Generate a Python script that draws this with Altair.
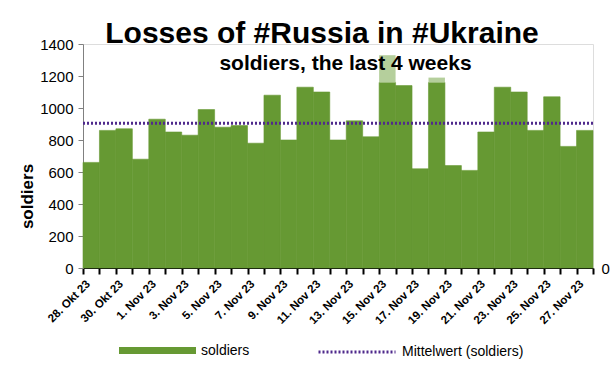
import json
import altair as alt
import pandas as pd

# ---- data ----
dates = [
    "28. Okt 23", "29. Okt 23", "30. Okt 23", "31. Okt 23",
    "1. Nov 23", "2. Nov 23", "3. Nov 23", "4. Nov 23", "5. Nov 23",
    "6. Nov 23", "7. Nov 23", "8. Nov 23", "9. Nov 23", "10. Nov 23",
    "11. Nov 23", "12. Nov 23", "13. Nov 23", "14. Nov 23", "15. Nov 23",
    "16. Nov 23", "17. Nov 23", "18. Nov 23", "19. Nov 23", "20. Nov 23",
    "21. Nov 23", "22. Nov 23", "23. Nov 23", "24. Nov 23", "25. Nov 23",
    "26. Nov 23", "27. Nov 23",
]
soldiers = [660, 860, 870, 680, 930, 850, 830, 990, 880, 890,
            780, 1080, 800, 1130, 1100, 800, 920, 820, 1160, 1140,
            620, 1160, 640, 610, 850, 1130, 1100, 860, 1070, 760, 860]
extra = [0, 0, 0, 0, 0, 0, 0, 0, 0, 0,
         0, 0, 0, 0, 0, 0, 0, 0, 170, 0,
         0, 30, 0, 0, 0, 0, 0, 0, 0, 0, 0]

title_text = "Losses of #Russia in #Ukraine"
subtitle_text = "soldiers, the last 4 weeks"
bar_series = "soldiers"
mean_series = "Mittelwert (soldiers)"

df = pd.DataFrame({
    "idx": list(range(len(dates))),
    "date": dates,
    "soldiers": soldiers,
    "extra": extra,
})
df["total"] = df["soldiers"] + df["extra"]

GREEN = "#669933"
LIGHT = "#b5cf9c"
PURPLE = "#4f2a8c"
FONT = "Liberation Sans"
N = len(dates)
W, H = 510, 224

label_expr = (
    f"datum.value % 2 == 0 && datum.value < {N} ? "
    f"{json.dumps(dates)}[datum.value] : ''"
)

x_scale = alt.Scale(domain=[0, N], nice=False, zero=False)
y_scale = alt.Scale(domain=[0, 1400], nice=False)

x_axis = alt.Axis(
    orient="bottom", values=list(range(N + 1)), labelExpr=label_expr,
    labelAngle=-45, labelAlign="right", labelBaseline="middle",
    labelOffset=W / N / 2 - 3, labelPadding=8, labelOverlap=False,
    labelFlush=False, labelBound=False, labelFontSize=11.5,
    labelFontWeight="bold", labelColor="black", labelFont=FONT,
    tickSize=6, tickColor="black", tickWidth=2, domainColor="black",
    grid=False, title=None,
)

# top axis carrying only the subtitle text
x_axis_top = alt.Axis(
    orient="top", labels=False, ticks=False, domain=False, grid=False,
    title=subtitle_text, titleFont=FONT, titleFontSize=21,
    titleFontWeight="bold", titleColor="black", titleX=262, titleY=19,
    titleAlign="center", titleBaseline="middle", titleAngle=0, zindex=2,
)

y_axis_left = alt.Axis(
    orient="left", values=list(range(0, 1401, 200)), format="d",
    title="soldiers", titleFontSize=17, titleFont=FONT,
    titleFontWeight="bold", titleColor="black", titleX=-56, titleY=152,
    titleAlign="center", titleBaseline="middle", titleAngle=270,
    labelFontSize=15, labelColor="black", labelFont=FONT, labelPadding=5,
    tickSize=5, tickColor="#808080", domainColor="#808080", grid=False,
)

y_axis_right = alt.Axis(
    orient="right", values=[0], format="d", title=None, domain=False,
    ticks=False, labelFontSize=15, labelFont=FONT, labelColor="black",
    labelPadding=8, grid=False,
)

legend_common = dict(
    orient="none", direction="horizontal", title=None, symbolSize=5929,
    labelFontSize=14, labelFont=FONT, labelColor="black", labelOffset=5,
    padding=0,
)

bar_legend = alt.Legend(
    legendX=36, legendY=268, symbolType="M-1,-0.09H1V0.09H-1Z",
    symbolStrokeWidth=0, symbolOpacity=1, **legend_common,
)
mean_legend = alt.Legend(
    legendX=234, legendY=268, symbolType="stroke",
    symbolStrokeColor=PURPLE, symbolStrokeWidth=3, symbolDash=[2, 2],
    **legend_common,
)

base = alt.Chart(df).transform_calculate(
    idx2="datum.idx + 1", series=f"'{bar_series}'"
)

bars = base.mark_bar(stroke=GREEN, strokeWidth=0.6).encode(
    x=alt.X("idx:Q", scale=x_scale, axis=x_axis),
    x2="idx2:Q",
    y=alt.Y("soldiers:Q", scale=y_scale, axis=y_axis_left),
    y2=alt.datum(0),
    color=alt.Color("series:N",
                    scale=alt.Scale(domain=[bar_series], range=[GREEN]),
                    legend=bar_legend),
)

extra_bars = base.transform_filter("datum.extra > 0").mark_bar(
    strokeWidth=0, color=LIGHT
).encode(
    x=alt.X("idx:Q", scale=x_scale, axis=x_axis_top),
    x2="idx2:Q",
    y=alt.Y("total:Q", scale=y_scale, axis=None),
    y2="soldiers:Q",
)

mean_rule = alt.Chart(df).transform_aggregate(
    mean="mean(total)"
).transform_calculate(
    series=f"'{mean_series}'"
).mark_rule(strokeWidth=3, color=PURPLE).encode(
    y=alt.Y("mean:Q", scale=y_scale, axis=y_axis_right),
    strokeDash=alt.StrokeDash(
        "series:N",
        scale=alt.Scale(domain=[mean_series], range=[[2, 2]]),
        legend=mean_legend,
    ),
)

chart = alt.layer(bars, extra_bars, mean_rule).resolve_axis(
    x="independent", y="independent"
).properties(
    width=W,
    height=H,
    autosize=alt.AutoSizeParams(type="none"),
    padding={"left": 83, "top": 44, "right": 17, "bottom": 109},
    title=alt.TitleParams(
        text=title_text, fontSize=30, font=FONT, fontWeight="bold",
        color="black", anchor="middle", frame="group", offset=-12, dx=-16,
    ),
).configure_view(
    stroke="#a6a6a6", strokeWidth=1
).configure(background="white")

chart.save("out.html", embed_options={"renderer": "svg", "actions": False})
